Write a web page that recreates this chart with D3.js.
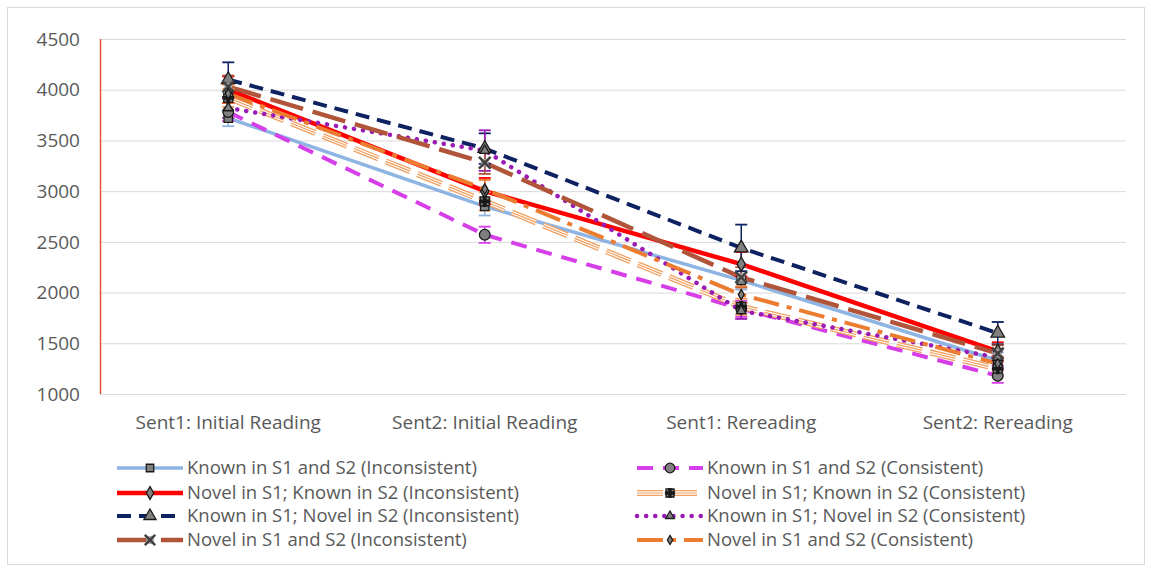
<!DOCTYPE html>
<html>
<head>
<meta charset="utf-8">
<script src="https://cdn.jsdelivr.net/npm/d3@7"></script>
<style>
  body { margin: 0; background: #fff; }
  text { font-family: "Open Sans", "DejaVu Sans", sans-serif; fill: #595959; }
</style>
</head>
<body>
<div id="chart"></div>
<script>
// ===== data =====
const categories = ['Sent1: Initial Reading', 'Sent2: Initial Reading', 'Sent1: Rereading', 'Sent2: Rereading'];
const seriesNames = [
  'Known in S1 and S2 (Inconsistent)',
  'Known in S1 and S2 (Consistent)',
  'Novel in S1; Known in S2 (Inconsistent)',
  'Novel in S1; Known in S2 (Consistent)',
  'Known in S1; Novel in S2 (Inconsistent)',
  'Known in S1; Novel in S2 (Consistent)',
  'Novel in S1 and S2 (Inconsistent)',
  'Novel in S1 and S2 (Consistent)'
];
const knownIncon   = [3720, 2850, 2120, 1330];
const knownCons    = [3780, 2570, 1840, 1180];
const novKnownInc  = [4000, 3000, 2280, 1420];
const novKnownCons = [3920, 2900, 1860, 1250];
const knownNovInc  = [4100, 3420, 2440, 1600];
const knownNovCons = [3820, 3400, 1820, 1360];
const novelIncon   = [4030, 3280, 2150, 1400];
const novelCons    = [3960, 3020, 1980, 1300];
// error bar half-widths
const errKnownIncon   = [80, 90, 90, 80];
const errKnownCons    = [90, 80, 80, 70];
const errNovKnownInc  = [130, 130, 120, 90];
const errNovKnownCons = [90, 90, 80, 70];
const errKnownNovInc  = [170, 150, 230, 110];
const errKnownNovCons = [100, 200, 80, 80];
const errNovelIncon   = [110, 110, 100, 80];
const errNovelCons    = [90, 90, 80, 70];
const yTicks = [1000, 1500, 2000, 2500, 3000, 3500, 4000, 4500];

const allValues = [knownIncon, knownCons, novKnownInc, novKnownCons, knownNovInc, knownNovCons, novelIncon, novelCons];
const allErrs = [errKnownIncon, errKnownCons, errNovKnownInc, errNovKnownCons, errKnownNovInc, errKnownNovCons, errNovelIncon, errNovelCons];

// ===== styles =====
const styles = [
  {color:'#8db4e2', width:3.5, dash:null, marker:'square', size:70},
  {color:'#d63ee8', width:4, dash:'16,10', marker:'circle', size:90},
  {color:'#ff0000', width:4.5, dash:null, marker:'diamond', size:60},
  {color:'#f0a060', width:6, dash:'26,8', marker:'cross', size:80, triple:true},
  {color:'#0e2160', width:4, dash:'14,8', marker:'triangle', size:80},
  {color:'#9a1bb5', width:4.5, dash:'0.1,9', cap:'round', marker:'triangle', size:40},
  {color:'#b0553a', width:4.5, dash:'34,10', marker:'x', size:90},
  {color:'#ec7c30', width:4, dash:'26,8,5,8', marker:'diamond', size:30}
];

const W = 1151, H = 570;
const svg = d3.select('#chart').append('svg').attr('width', W).attr('height', H);

svg.append('rect').attr('x', 7.5).attr('y', 7.5).attr('width', 1137).attr('height', 557)
  .attr('fill', '#fff').attr('stroke', '#d9d9d9');

const x = d3.scalePoint().domain(categories).range([100, 1126]).padding(0.5);
const y = d3.scaleLinear().domain([1000, 4500]).range([394, 39]);

// gridlines
svg.append('g').selectAll('line').data(yTicks).enter().append('line')
  .attr('x1', 100).attr('x2', 1126)
  .attr('y1', d => y(d) + 0.5).attr('y2', d => y(d) + 0.5)
  .attr('stroke', '#d9d9d9').attr('stroke-width', 1);

// y tick labels
svg.append('g').selectAll('text').data(yTicks).enter().append('text')
  .attr('x', 80).attr('y', d => y(d)).attr('dy', '0.35em')
  .attr('text-anchor', 'end').style('font-size', '19px')
  .text(d => d);

// y axis line
svg.append('line').attr('x1', 100.5).attr('x2', 100.5).attr('y1', y(4500)).attr('y2', y(1000))
  .attr('stroke', '#e0533a').attr('stroke-width', 1.5);

// x labels
svg.append('g').selectAll('text').data(categories).enter().append('text')
  .attr('x', d => x(d)).attr('y', 429).attr('text-anchor', 'middle')
  .style('font-size', '19px').text(d => d);

const line = d3.line().x((d, i) => x(categories[i])).y(d => y(d));

function drawLine(g, data, s) {
  const p = g.append('path').attr('d', data).attr('fill', 'none')
    .attr('stroke', s.color).attr('stroke-width', s.width)
    .attr('stroke-linecap', s.cap || 'butt');
  if (s.dash) p.attr('stroke-dasharray', s.dash);
  if (s.triple) {
    g.append('path').attr('d', data).attr('fill', 'none')
      .attr('stroke', '#fff').attr('stroke-width', s.width - 2.6)
      .attr('stroke-dasharray', s.dash);
    g.append('path').attr('d', data).attr('fill', 'none')
      .attr('stroke', s.color).attr('stroke-width', 1.2)
      .attr('stroke-dasharray', s.dash);
  }
}

const symbolType = {
  square: d3.symbolSquare, circle: d3.symbolCircle, diamond: d3.symbolDiamond,
  cross: d3.symbolSquare, triangle: d3.symbolTriangle, x: d3.symbolX
};

function drawMarker(g, cx, cy, s) {
  if (s.marker === 'x') {
    g.append('path').attr('d', d3.symbol().type(d3.symbolSquare).size(60)())
      .attr('transform', `translate(${cx},${cy})`).attr('fill', '#a6a6a6');
    g.append('path').attr('d', d3.symbol().type(d3.symbolX).size(s.size)())
      .attr('transform', `translate(${cx},${cy})`).attr('fill', 'none')
      .attr('stroke', '#404040').attr('stroke-width', 2.5);
    return;
  }
  g.append('path').attr('d', d3.symbol().type(symbolType[s.marker]).size(s.size)())
    .attr('transform', `translate(${cx},${cy})`)
    .attr('fill', '#808080').attr('stroke', '#1a1a1a').attr('stroke-width', 1.3);
  if (s.marker === 'cross') {
    g.append('path').attr('d', d3.symbol().type(d3.symbolCross).size(s.size * 0.9)())
      .attr('transform', `translate(${cx},${cy})`)
      .attr('fill', '#1a1a1a');
  }
}

const lineG = svg.append('g');
allValues.forEach((vals, si) => drawLine(lineG, line(vals), styles[si]));

// error bars
const errG = svg.append('g');
allValues.forEach((vals, si) => {
  vals.forEach((v, i) => {
    const cx = x(categories[i]);
    const e = allErrs[si][i];
    const c = styles[si].color;
    errG.append('line').attr('x1', cx).attr('x2', cx).attr('y1', y(v + e)).attr('y2', y(v - e))
      .attr('stroke', c).attr('stroke-width', 1.5);
    [v + e, v - e].forEach(t => {
      errG.append('line').attr('x1', cx - 6).attr('x2', cx + 6).attr('y1', y(t)).attr('y2', y(t))
        .attr('stroke', c).attr('stroke-width', 1.8);
    });
  });
});

// markers
const mG = svg.append('g');
allValues.forEach((vals, si) => {
  vals.forEach((v, i) => drawMarker(mG, x(categories[i]), y(v), styles[si]));
});

// legend
const legRows = [468, 493, 516, 540];
const legG = svg.append('g');
seriesNames.forEach((name, si) => {
  const col = si % 2, row = Math.floor(si / 2);
  const lx = col === 0 ? 117 : 637;
  const ly = legRows[row];
  const s = styles[si];
  const len = 66;
  drawLine(legG, `M${lx},${ly}L${lx + len},${ly}`, s);
  drawMarker(legG, lx + len / 2, ly, Object.assign({}, s, {size: s.size * 0.8}));
  legG.append('text').attr('x', lx + 70).attr('y', ly).attr('dy', '0.35em')
    .style('font-size', '18.5px').text(name);
});
</script>
</body>
</html>
